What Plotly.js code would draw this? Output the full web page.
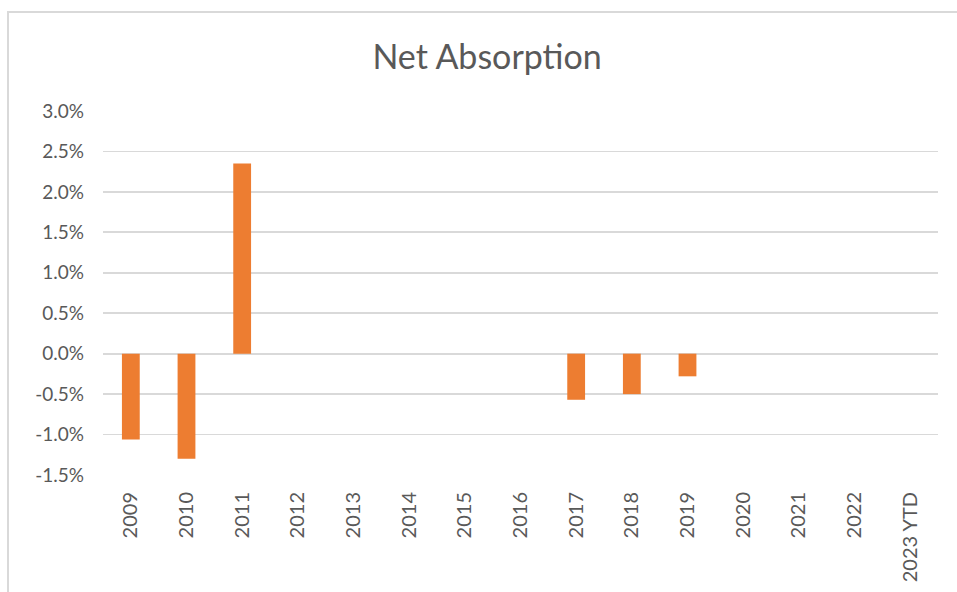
<!DOCTYPE html>
<html>
<head>
<meta charset="utf-8">
<script src="https://cdn.plot.ly/plotly-3.0.1.min.js"></script>
<style>
  body { margin: 0; overflow: hidden; background: #fff; }
  #chart { position: absolute; left: 0; top: 0; width: 957px; height: 592px; }
  #chart text { font-variant-ligatures: none; }
  #frame { position: absolute; left: 7px; top: 11px; width: 1000px; height: 700px;
           border-top: 2px solid #d9d9d9; border-left: 2px solid #d9d9d9; pointer-events: none; }
</style>
</head>
<body>
<div id="chart"></div>
<div id="frame"></div>
<script>
// years on the x axis
var years = ["2009", "2010", "2011", "2012", "2013", "2014", "2015", "2016",
  "2017", "2018", "2019", "2020", "2021", "2022", "2023 YTD"];
// net absorption in percent
var absorption = [-1.06, -1.30, 2.35, null, null, null, null, null,
  -0.57, -0.50, -0.28, null, null, null, null];

var yTicks = [-1.5, -1.0, -0.5, 0.0, 0.5, 1.0, 1.5, 2.0, 2.5, 3.0];
var yTickText = ["-1.5%", "-1.0%", "-0.5%", "0.0%", "0.5%", "1.0%", "1.5%", "2.0%", "2.5%", "3.0%"];

var trace1 = {
  type: "bar",
  x: years,
  y: absorption,
  marker: { color: "#ED7D31" },
  hoverinfo: "x+y"
};

var data = [trace1];

var layout = {
  width: 957,
  height: 592,
  margin: { l: 103, r: 19, t: 111, b: 117 },
  paper_bgcolor: "#fff",
  plot_bgcolor: "#fff",
  font: { family: "Lato, 'Open Sans', sans-serif", color: "#595959", size: 19 },
  title: {
    text: "Net Absorption",
    font: { size: 34, color: "#595959" },
    xref: "container", x: 0.509, xanchor: "center",
    yref: "container", y: 0.904, yanchor: "middle"
  },
  showlegend: false,
  bargap: 0.68,
  xaxis: {
    type: "category",
    tickangle: -90,
    showgrid: false,
    showline: false,
    zeroline: false,
    ticks: "",
    ticklabelstandoff: 12,
    tickfont: { size: 20, color: "#595959" }
  },
  yaxis: {
    range: [-1.5, 3.0],
    tickvals: yTicks,
    ticktext: yTickText,
    showgrid: true,
    gridcolor: "#d9d9d9",
    gridwidth: 1.8,
    zeroline: false,
    showline: false,
    ticks: "",
    ticklabelstandoff: 18,
    tickfont: { size: 19, color: "#595959" }
  }
};

var config = { staticPlot: true };

Plotly.newPlot("chart", data, layout, config);
</script>
</body>
</html>
